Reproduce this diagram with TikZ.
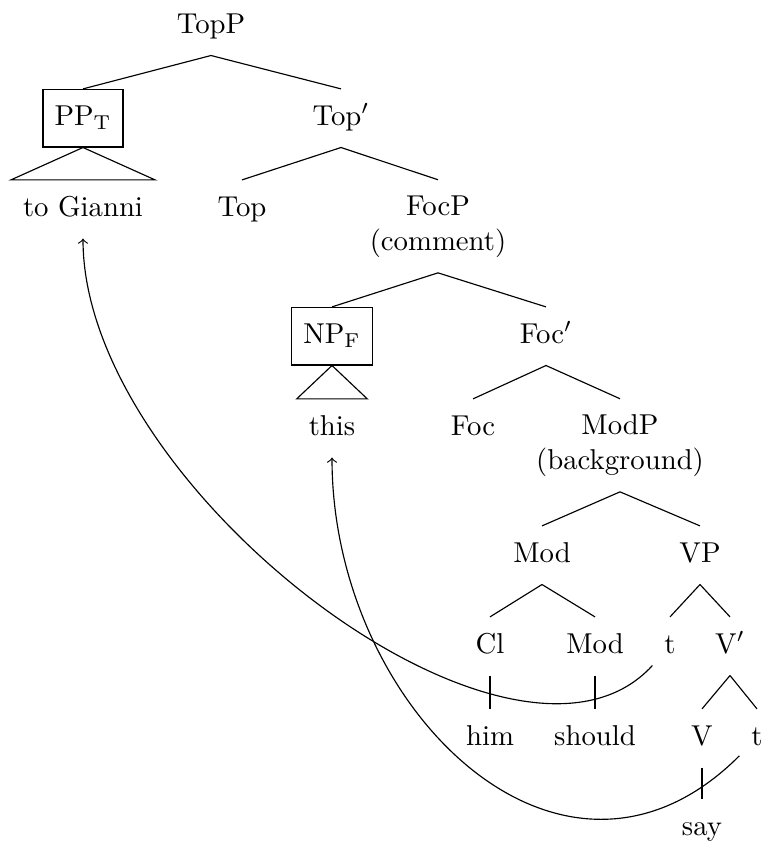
\documentclass[tikz,border=0pt]{standalone}
\begin{document}
\begin{tikzpicture}[x=0.348pt,y=-0.348pt,
        every node/.style={inner sep=4pt,execute at begin node=\strut}]
        \useasboundingbox (0,0) rectangle (763,841);
        % nodes, row by row
        \node (topp) at (211,26.2) {TopP};
        \node[draw] (pp) at (83,118.2) {PP$_{\mathrm{T}}$};
        \node (topbar) at (341,118.2) {Top$'$};
        \node (gianni) at (83,209.2) {to Gianni};
        \node (top) at (242,209.2) {Top};
        \node[align=center] (focp) at (438,226.3) {\strut FocP\\\strut(comment)};
        \node[draw] (np) at (332,336.2) {NP$_{\mathrm{F}}$};
        \node (focbar) at (546,336.2) {Foc$'$};
        \node (this) at (332,428.2) {this};
        \node (foc) at (473,428.2) {Foc};
        \node[align=center] (modp) at (620,445.3) {\strut ModP\\\strut(background)};
        \node (mod) at (542,555.2) {Mod};
        \node (vp) at (700,555.2) {VP};
        \node (cl) at (490,646.2) {Cl};
        \node (modh) at (595,646.2) {Mod};
        \node (t1) at (670,646.2) {t};
        \node (vbar) at (730,646.2) {V$'$};
        \node (him) at (490,738.2) {him};
        \node (should) at (595,738.2) {should};
        \node (v) at (702,738.2) {V};
        \node (t2) at (757,738.2) {t};
        \node (say) at (702,828.2) {say};
        % branches
        \foreach \a/\b in {topp/pp,topp/topbar,topbar/top,topbar/focp,focp/np,focp/focbar,
                focbar/foc,focbar/modp,modp/mod,modp/vp,mod/cl,mod/modh,vp/t1,vp/vbar,
                cl/him,modh/should,vbar/v,vbar/t2,v/say}
            \draw (\a.south) -- (\b.north);
        \draw (pp.south) -- (gianni.north west) -- (gianni.north east) -- cycle;
        \draw (np.south) -- (this.north west) -- (this.north east) -- cycle;
        % movement
        \draw[->] (t1) .. controls +(-155,170) and +(0,280) .. (gianni);
        \draw[->] (t2) .. controls +(-195,195) and +(0,280) .. (this);
    \end{tikzpicture}
\end{document}
